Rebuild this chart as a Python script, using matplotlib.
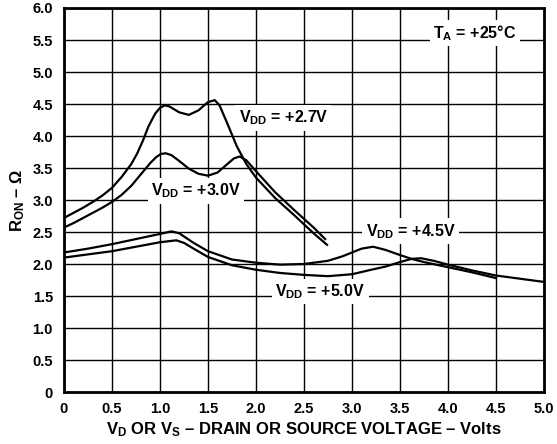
import numpy as np
import matplotlib
matplotlib.use("Agg")
import matplotlib.pyplot as plt

plt.rcParams["font.family"] = ["Liberation Sans", "DejaVu Sans"]
plt.rcParams["font.weight"] = "bold"
plt.rcParams["mathtext.fontset"] = "custom"
plt.rcParams["mathtext.rm"] = "Liberation Sans:bold"
plt.rcParams["mathtext.it"] = "Liberation Sans:bold"
plt.rcParams["mathtext.bf"] = "Liberation Sans:bold"

# R_ON vs V_D/V_S
x_27 = [0, 0.1, 0.2, 0.3, 0.4, 0.5, 0.6, 0.7, 0.76, 0.82, 0.88, 0.95, 1.0, 1.05, 1.1,
        1.2, 1.3, 1.4, 1.5, 1.57, 1.62, 1.7, 1.8, 1.9, 2.0, 2.2, 2.4, 2.6, 2.74]
r_27 = [2.72, 2.80, 2.88, 2.97, 3.07, 3.19, 3.36, 3.56, 3.72, 3.92, 4.15, 4.35, 4.44, 4.48, 4.46,
        4.37, 4.33, 4.40, 4.53, 4.56, 4.48, 4.20, 3.84, 3.56, 3.35, 3.03, 2.76, 2.48, 2.30]

x_30 = [0, 0.1, 0.2, 0.3, 0.4, 0.5, 0.6, 0.7, 0.8, 0.9, 0.96, 1.01, 1.06, 1.12, 1.2,
        1.3, 1.4, 1.5, 1.6, 1.7, 1.77, 1.83, 1.9, 2.0, 2.2, 2.4, 2.6, 2.72]
r_30 = [2.57, 2.64, 2.72, 2.80, 2.88, 2.97, 3.08, 3.22, 3.40, 3.58, 3.67, 3.72, 3.73, 3.70, 3.61,
        3.49, 3.41, 3.38, 3.43, 3.56, 3.65, 3.68, 3.62, 3.45, 3.12, 2.84, 2.57, 2.39]

x_45 = [0, 0.25, 0.5, 0.75, 1.0, 1.12, 1.2, 1.35, 1.5, 1.75, 2.0, 2.25, 2.5, 2.75,
        2.9, 3.0, 3.1, 3.22, 3.35, 3.5, 3.62, 3.75, 4.0, 4.25, 4.5]
r_45 = [2.18, 2.24, 2.31, 2.39, 2.47, 2.51, 2.48, 2.33, 2.20, 2.07, 2.02, 1.99, 2.00, 2.05,
        2.12, 2.18, 2.24, 2.27, 2.22, 2.14, 2.08, 2.03, 1.95, 1.87, 1.78]

x_50 = [0, 0.25, 0.5, 0.75, 1.0, 1.17, 1.25, 1.35, 1.5, 1.75, 2.0, 2.25, 2.5, 2.75,
        3.0, 3.2, 3.35, 3.5, 3.62, 3.72, 3.85, 4.0, 4.25, 4.5, 4.75, 5.0]
r_50 = [2.10, 2.15, 2.20, 2.27, 2.34, 2.37, 2.33, 2.24, 2.11, 1.98, 1.91, 1.86, 1.83, 1.81,
        1.84, 1.91, 1.96, 2.03, 2.08, 2.09, 2.05, 1.99, 1.90, 1.82, 1.77, 1.72]

x_ticks = [0, 0.5, 1.0, 1.5, 2.0, 2.5, 3.0, 3.5, 4.0, 4.5, 5.0]
x_tick_labels = ["0", "0.5", "1.0", "1.5", "2.0", "2.5", "3.0", "3.5", "4.0", "4.5", "5.0"]
y_ticks = [0, 0.5, 1.0, 1.5, 2.0, 2.5, 3.0, 3.5, 4.0, 4.5, 5.0, 5.5, 6.0]
y_tick_labels = ["0", "0.5", "1.0", "1.5", "2.0", "2.5", "3.0", "3.5", "4.0", "4.5", "5.0", "5.5", "6.0"]

fig = plt.figure(figsize=(5.57, 4.44), dpi=100)
ax = fig.add_axes([64 / 557, 52 / 444, 480 / 557, 384 / 444])

for xs, rs in [(x_27, r_27), (x_30, r_30), (x_45, r_45), (x_50, r_50)]:
    ax.plot(xs, rs, color="black", lw=1.6, zorder=4, solid_joinstyle="round")

ax.set_xlim(0, 5)
ax.set_ylim(0, 6)
ax.set_xticks(x_ticks)
ax.set_xticklabels(x_tick_labels)
ax.set_yticks(y_ticks)
ax.set_yticklabels(y_tick_labels)
ax.tick_params(axis="x", length=0, labelsize=10.5, pad=7)
ax.tick_params(axis="y", length=0, labelsize=10.5, pad=8)
for lab in ax.get_xticklabels() + ax.get_yticklabels():
    lab.set_fontweight("bold")

ax.grid(True, color="black", lw=1.0)
ax.set_axisbelow(True)
for sp in ax.spines.values():
    sp.set_linewidth(2.0)
    sp.set_zorder(5)

box = dict(facecolor="white", edgecolor="none", pad=2.5)
lbl = dict(fontsize=11.5, fontweight="bold", ha="center", va="center", zorder=3, bbox=box)
ax.text(2.28, 4.28, r"$\mathrm{V_{DD}}$ = +2.7V", **lbl)
ax.text(1.375, 3.14, r"$\mathrm{V_{DD}}$ = +3.0V", **lbl)
ax.text(3.61, 2.51, r"$\mathrm{V_{DD}}$ = +4.5V", **lbl)
ax.text(2.67, 1.57, r"$\mathrm{V_{DD}}$ = +5.0V", **lbl)
ax.text(4.28, 5.61, r"$\mathrm{T_{A}}$ = +25°C", **lbl)

ax.set_xlabel(r"$\mathrm{V_{D}}$ OR $\mathrm{V_{S}}$ – DRAIN OR SOURCE VOLTAGE – Volts",
              fontsize=12, fontweight="bold", labelpad=3)
ax.set_ylabel(r"$\mathrm{R_{ON}}$ – Ω", fontsize=12, fontweight="bold", labelpad=4)

fig.savefig("out.png", dpi=100)
